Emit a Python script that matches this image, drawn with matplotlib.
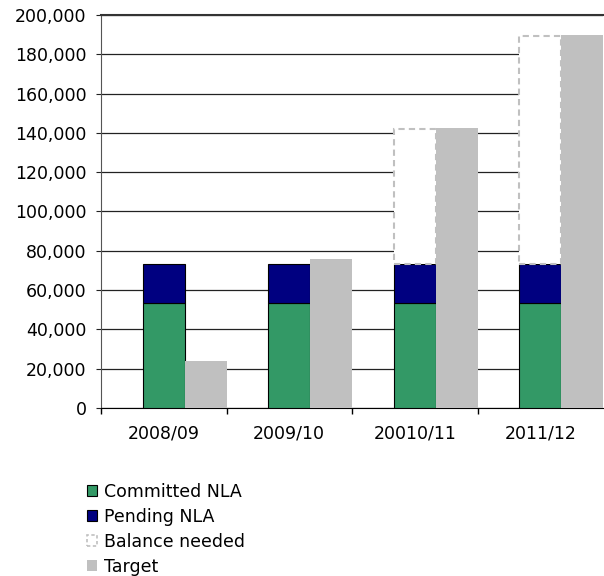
import numpy as np
import matplotlib.pyplot as plt
from matplotlib.patches import Patch
from matplotlib.ticker import FuncFormatter

plt.rcParams["font.family"] = ["DejaVu Sans"]

years = ["2008/09", "2009/10", "20010/11", "2011/12"]
committed = np.array([53600, 53600, 53600, 53600])
pending = np.array([19900, 19900, 19900, 19900])
balance = np.array([0, 0, 68500, 115800])
target = np.array([24000, 76000, 142300, 189600])

green = "#339966"
navy = "#000080"
grey = "#C0C0C0"
fs = 12.5

fig = plt.figure(figsize=(6.04, 5.76), dpi=100)
ax = fig.add_axes([101 / 604, 168 / 576, 502 / 604, 393 / 576])

x = np.arange(len(years))
w = 1 / 3

ax.bar(x + w, committed, width=w, align="edge", color=green,
       edgecolor="black", linewidth=0.8, zorder=3)
ax.bar(x + w, pending, width=w, bottom=committed, align="edge", color=navy,
       edgecolor="black", linewidth=0.8, zorder=3)
has_bal = balance > 0
ax.bar(x[has_bal] + w, balance[has_bal], width=w,
       bottom=(committed + pending)[has_bal], align="edge", facecolor="white",
       edgecolor=grey, linewidth=1.5, linestyle=(0, (3, 2)), zorder=4)
ax.bar(x + 2 * w, target, width=w, align="edge", color=grey,
       linewidth=0, zorder=3)

ax.set_xlim(0, len(years))
ax.set_ylim(0, 200000)
ax.set_yticks(np.arange(0, 200001, 20000))
ax.yaxis.set_major_formatter(FuncFormatter(lambda v, p: f"{int(v):,}"))
ax.set_xticks(np.arange(0, len(years)))
ax.set_xticklabels([])
ax.set_xticks(x + 0.5, minor=True)
ax.set_xticklabels(years, minor=True)
ax.tick_params(axis="x", which="minor", length=0, pad=12, labelsize=fs)
ax.tick_params(axis="x", which="major", length=4, direction="out", width=1)
ax.tick_params(axis="y", length=3.5, direction="out", pad=7, labelsize=fs,
               colors="#222222")
ax.tick_params(axis="y", labelcolor="black")

ax.grid(True, axis="y", color="#222222", lw=0.9)
ax.set_axisbelow(True)
ax.spines["right"].set_visible(False)
ax.spines["top"].set_linewidth(1.5)
ax.spines["top"].set_color("#333333")
ax.spines["left"].set_color("#555555")
ax.spines["bottom"].set_color("black")

handles = [
    Patch(facecolor=green, edgecolor="black", linewidth=0.8, label="Committed NLA"),
    Patch(facecolor=navy, edgecolor="black", linewidth=0.8, label="Pending NLA"),
    Patch(facecolor="white", edgecolor=grey, linewidth=1.2, linestyle=(0, (2, 1.5)),
          label="Balance needed"),
    Patch(facecolor=grey, edgecolor="none", label="Target"),
]
fig.legend(handles=handles, loc="upper left", bbox_to_anchor=(87 / 604, 1 - 483 / 576),
           frameon=False, fontsize=fs, handlelength=0.6, handleheight=0.6,
           handletextpad=0.4, labelspacing=0.4, borderaxespad=0, borderpad=0)

fig.savefig("out.png", dpi=100)
